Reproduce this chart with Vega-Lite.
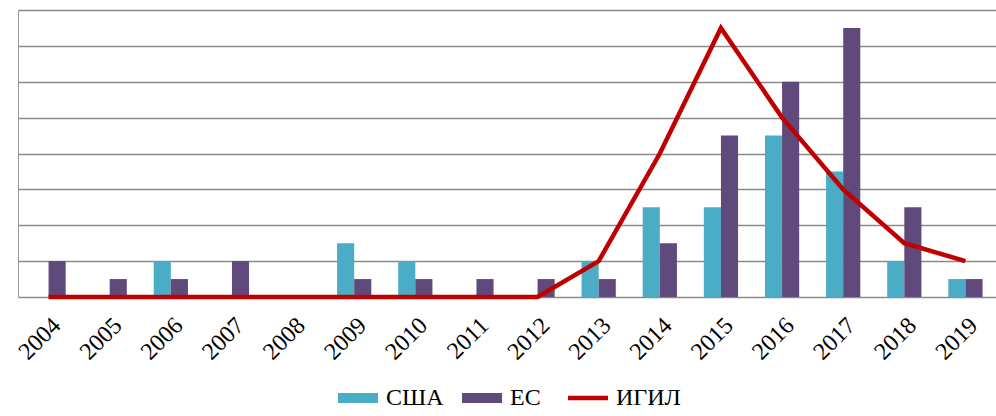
{
  "$schema": "https://vega.github.io/schema/vega-lite/v6.json",
  "width": 978,
  "height": 287,
  "autosize": "none",
  "padding": {"left": 18, "top": 10, "right": 0, "bottom": 119},
  "background": "white",
  "config": {"view": {"stroke": null}, "font": "Liberation Serif"},
  "data": {"values": [
    {"year": "2004", "series": "США", "value": 0}, {"year": "2004", "series": "ЕС", "value": 2}, {"year": "2004", "series": "ИГИЛ", "value": 0},
    {"year": "2005", "series": "США", "value": 0}, {"year": "2005", "series": "ЕС", "value": 1}, {"year": "2005", "series": "ИГИЛ", "value": 0},
    {"year": "2006", "series": "США", "value": 2}, {"year": "2006", "series": "ЕС", "value": 1}, {"year": "2006", "series": "ИГИЛ", "value": 0},
    {"year": "2007", "series": "США", "value": 0}, {"year": "2007", "series": "ЕС", "value": 2}, {"year": "2007", "series": "ИГИЛ", "value": 0},
    {"year": "2008", "series": "США", "value": 0}, {"year": "2008", "series": "ЕС", "value": 0}, {"year": "2008", "series": "ИГИЛ", "value": 0},
    {"year": "2009", "series": "США", "value": 3}, {"year": "2009", "series": "ЕС", "value": 1}, {"year": "2009", "series": "ИГИЛ", "value": 0},
    {"year": "2010", "series": "США", "value": 2}, {"year": "2010", "series": "ЕС", "value": 1}, {"year": "2010", "series": "ИГИЛ", "value": 0},
    {"year": "2011", "series": "США", "value": 0}, {"year": "2011", "series": "ЕС", "value": 1}, {"year": "2011", "series": "ИГИЛ", "value": 0},
    {"year": "2012", "series": "США", "value": 0}, {"year": "2012", "series": "ЕС", "value": 1}, {"year": "2012", "series": "ИГИЛ", "value": 0},
    {"year": "2013", "series": "США", "value": 2}, {"year": "2013", "series": "ЕС", "value": 1}, {"year": "2013", "series": "ИГИЛ", "value": 2},
    {"year": "2014", "series": "США", "value": 5}, {"year": "2014", "series": "ЕС", "value": 3}, {"year": "2014", "series": "ИГИЛ", "value": 8},
    {"year": "2015", "series": "США", "value": 5}, {"year": "2015", "series": "ЕС", "value": 9}, {"year": "2015", "series": "ИГИЛ", "value": 15},
    {"year": "2016", "series": "США", "value": 9}, {"year": "2016", "series": "ЕС", "value": 12}, {"year": "2016", "series": "ИГИЛ", "value": 10},
    {"year": "2017", "series": "США", "value": 7}, {"year": "2017", "series": "ЕС", "value": 15}, {"year": "2017", "series": "ИГИЛ", "value": 6},
    {"year": "2018", "series": "США", "value": 2}, {"year": "2018", "series": "ЕС", "value": 5}, {"year": "2018", "series": "ИГИЛ", "value": 3},
    {"year": "2019", "series": "США", "value": 1}, {"year": "2019", "series": "ЕС", "value": 1}, {"year": "2019", "series": "ИГИЛ", "value": 2}
  ]},
  "encoding": {
    "x": {
      "field": "year", "type": "nominal", "title": null,
      "scale": {"paddingInner": 0.44, "paddingOuter": 0.22},
      "axis": {"labelAngle": -45, "labelFontSize": 24, "labelFont": "Liberation Serif", "labelColor": "#000000", "ticks": false, "domain": false, "labelPadding": 16}
    },
    "y": {
      "field": "value", "type": "quantitative", "title": null,
      "scale": {"domain": [0, 16], "nice": false},
      "axis": {"values": [0, 2, 4, 6, 8, 10, 12, 14, 16], "labels": false, "ticks": false, "domain": true, "domainColor": "#9a9a9a", "gridColor": "#8a8a8a", "gridWidth": 1.5}
    },
    "color": {
      "field": "series", "type": "nominal",
      "scale": {"domain": ["США", "ЕС", "ИГИЛ"], "range": ["#4BACC6", "#604A7B", "#C00000"]},
      "legend": {
        "title": null, "orient": "none", "legendX": 328, "legendY": 376, "direction": "horizontal",
        "labelFontSize": 24, "labelFont": "Liberation Serif", "labelColor": "#000000",
        "symbolSize": 1600, "labelOffset": 16, "columnPadding": 18,
        "encode": {
          "symbols": {
            "update": {
              "shape": {"signal": "datum.value === 'ИГИЛ' ? 'stroke' : 'M-1,-0.25H1V0.25H-1Z'"},
              "fill": {"signal": "datum.value === 'ИГИЛ' ? 'transparent' : scale('color', datum.value)"},
              "stroke": {"signal": "scale('color', datum.value)"},
              "strokeWidth": {"signal": "datum.value === 'ИГИЛ' ? 4.5 : 0"},
              "opacity": {"value": 1}
            }
          }
        }
      }
    }
  },
  "layer": [
    {
      "transform": [{"filter": "datum.series !== 'ИГИЛ'"}],
      "mark": {"type": "bar", "opacity": 1},
      "encoding": {
        "xOffset": {"field": "series", "type": "nominal", "sort": ["США", "ЕС"], "scale": {"paddingInner": 0, "paddingOuter": 0}}
      }
    },
    {
      "transform": [{"filter": "datum.series === 'ИГИЛ'"}],
      "mark": {"type": "line", "strokeWidth": 4.5},
      "encoding": {}
    }
  ]
}
